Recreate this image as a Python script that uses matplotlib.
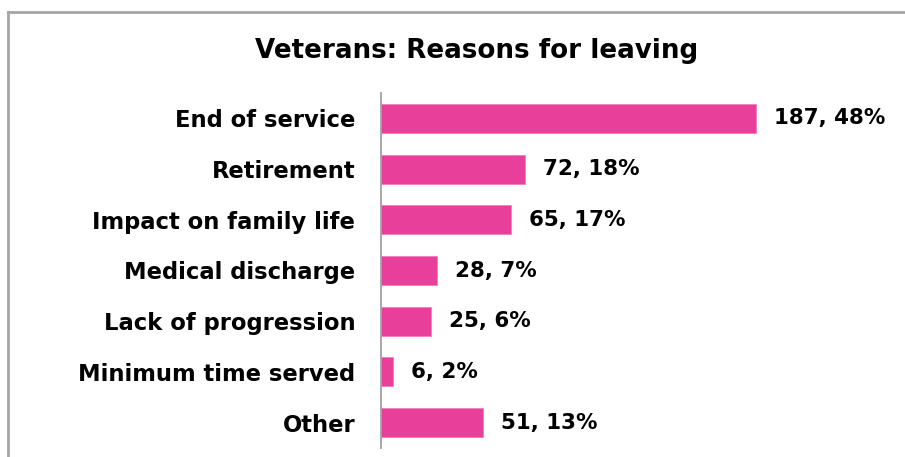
import matplotlib
matplotlib.use("Agg")
import matplotlib.pyplot as plt
from matplotlib.lines import Line2D

categories = ["End of service", "Retirement", "Impact on family life", "Medical discharge",
              "Lack of progression", "Minimum time served", "Other"]
counts = [187, 72, 65, 28, 25, 6, 51]
percents = [48, 18, 17, 7, 6, 2, 13]
title = "Veterans: Reasons for leaving"

FONT = "DejaVu Sans"
BAR = "#E8409A"

fig = plt.figure(figsize=(9.05, 4.57), dpi=100)
W, H = 905, 457

# outer frame (gray, left & top visible)
fig.add_artist(Line2D([8/W, 8/W], [0, 1 - 12/H], color="#A6A6A6", lw=2, transform=fig.transFigure))
fig.add_artist(Line2D([8/W, 1], [1 - 12/H, 1 - 12/H], color="#A6A6A6", lw=2, transform=fig.transFigure))

ax = fig.add_axes([381/W, 1 - 448/H, 401/W, 355/H])
y = list(range(len(categories)))
ax.barh(y, counts, height=0.57, color=BAR, edgecolor="#F07DBB", linewidth=0.6)
ax.set_xlim(0, 200)
ax.set_ylim(len(categories) - 0.5, -0.5)
for s in ["top", "right", "bottom"]:
    ax.spines[s].set_visible(False)
ax.spines["left"].set_color("#A0A0A0")
ax.spines["left"].set_linewidth(1.3)
ax.set_xticks([])
ax.set_yticks(y)
ax.set_yticklabels(categories, fontsize=16.3, fontweight="bold", family=FONT)
ax.tick_params(axis="y", length=0, pad=18.5)

for yi, c, p in zip(y, counts, percents):
    ax.text(c + 9, yi, f"{c}, {p}%", va="center", ha="left", fontsize=15.4,
            fontweight="bold", family=FONT)

fig.text(477/W, 1 - 51/H, title, ha="center", va="center", fontsize=18.8,
         fontweight="bold", family=FONT)

fig.savefig("out.png", dpi=100)
